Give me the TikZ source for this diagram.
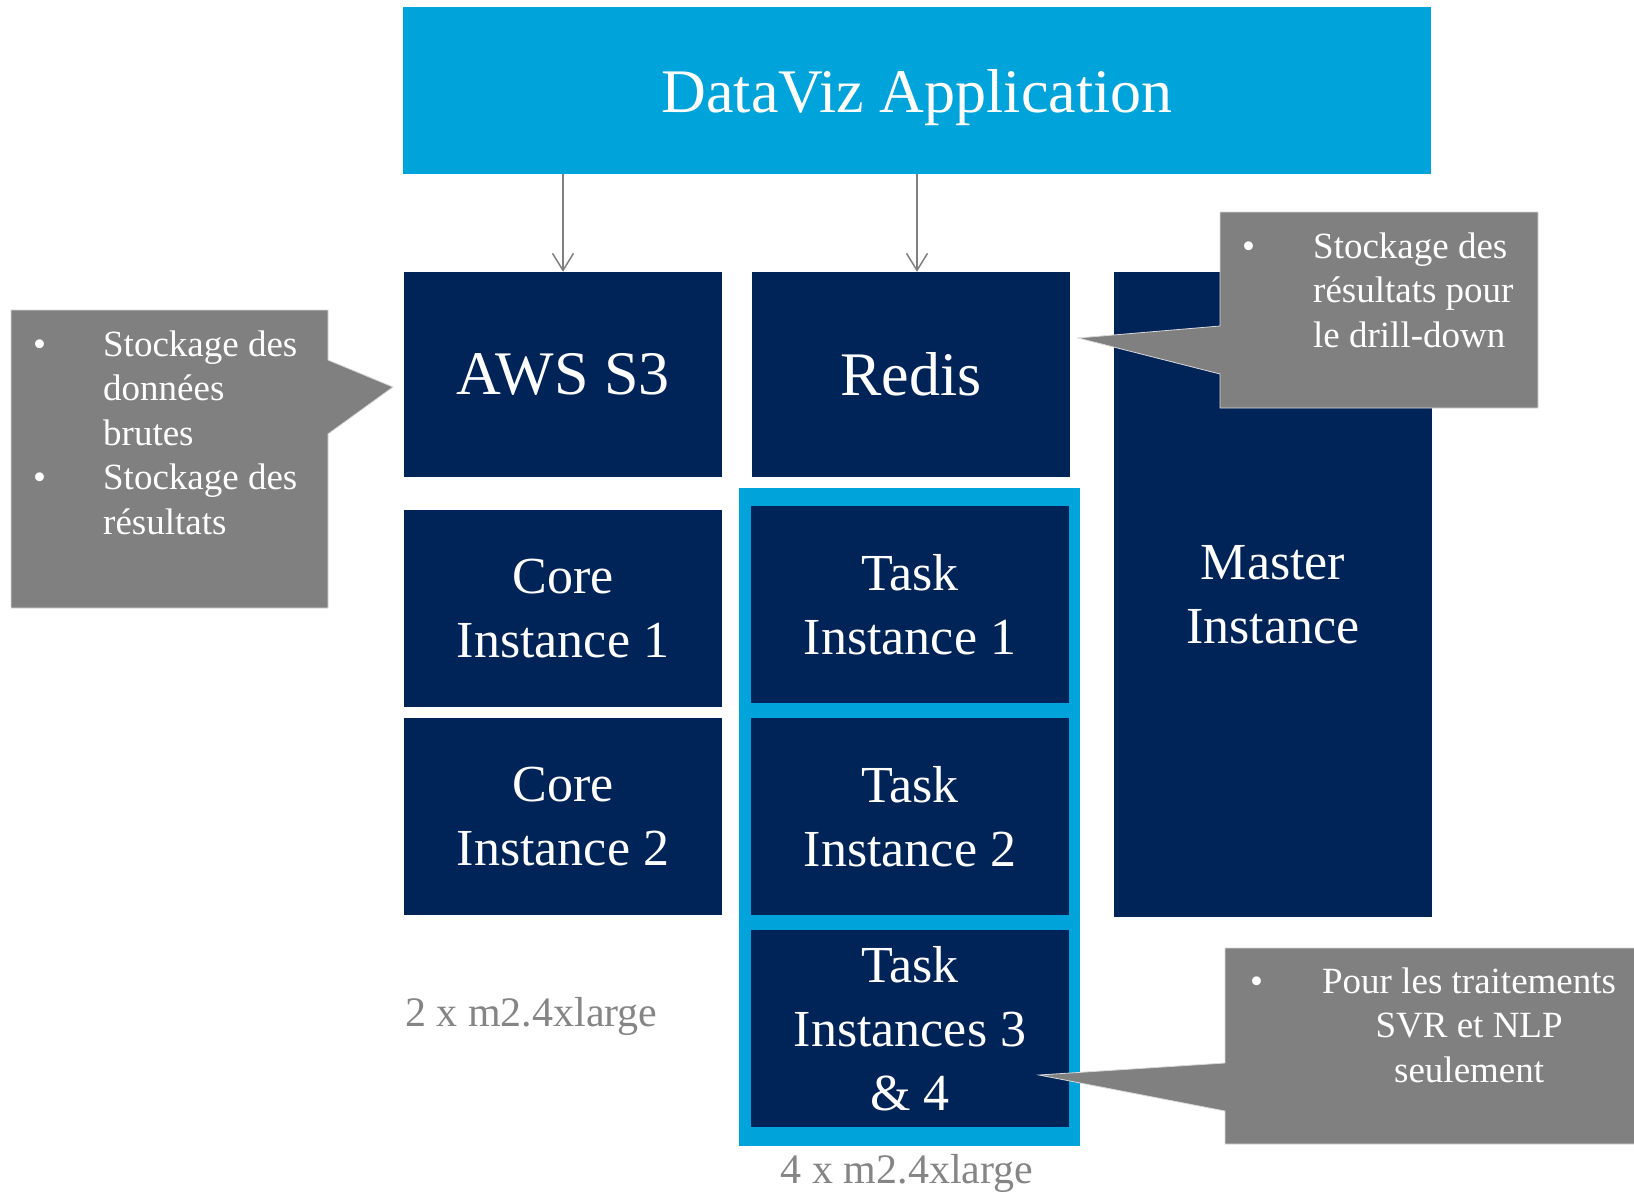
\documentclass[tikz,border=0pt]{standalone}
\usepackage{fontspec}
\setmainfont{Liberation Serif}
\usetikzlibrary{arrows.meta}

\definecolor{appblue}{HTML}{00A3DA}
\definecolor{navy}{HTML}{002358}
\definecolor{notegray}{HTML}{808080}
\definecolor{lblgray}{HTML}{858585}

\newcommand\titlesize{\fontsize{62}{74}\selectfont}
\newcommand\instsize{\fontsize{52}{64}\selectfont}
\newcommand\notesize{\fontsize{37}{44.5}\selectfont}
\newcommand\lblsize{\fontsize{42}{50}\selectfont}

\tikzset{
    inst/.style={fill=navy, text=white, inner sep=0pt, align=center,
        minimum width=318pt, font=\instsize},
    notebox/.style={fill=notegray, draw=white!70!gray, line width=0.8pt},
    notetext/.style={text=white, inner sep=0pt, font=\notesize, anchor=base west},
    lbl/.style={text=lblgray, inner sep=0pt, font=\lblsize},
    feed/.style={draw=notegray, line width=1.5pt,
        -{Straight Barb[length=17pt,width=21pt,line width=1.5pt]}}
}

\begin{document}
\begin{tikzpicture}[x=1pt,y=-1pt]
    \useasboundingbox (0,0) rectangle (1634,1192);

    \node[fill=appblue, text=white, minimum width=1028pt, minimum height=167pt,
        text depth=0pt, font=\titlesize] (app) at (917,90.5) {DataViz Application};

    \node[inst, minimum height=205pt, font=\titlesize] (s3)    at (563,374.5) {AWS S3};
    \node[inst, minimum height=205pt, font=\titlesize] (redis) at (911,374.5) {Redis};
    \node[inst, minimum height=645pt] (master) at (1273,594.5) {Master\\Instance};

    \node[inst, minimum height=197pt] (core1) at (563,608.5) {Core\\Instance 1};
    \node[inst, minimum height=197pt] (core2) at (563,816.5) {Core\\Instance 2};

    % task group
    \node[fill=appblue, minimum width=341pt, minimum height=658pt] (taskgrp) at (909.5,817) {};
    \node[inst, minimum height=197pt] (task1) at (910,604.5)  {Task\\Instance 1};
    \node[inst, minimum height=197pt] (task2) at (910,816.5)  {Task\\Instance 2};
    \node[inst, minimum height=197pt] (task3) at (910,1028.5) {Task\\Instances 3\\\& 4};

    \draw[feed] (app.south -| s3) -- (s3.north);
    \draw[feed] (app.south) -- (app.south |- redis.north);

    \node[lbl, anchor=base west] (corelbl) at (405,1026) {2 x m2.4xlarge};
    \node[lbl, anchor=base] (tasklbl) at (907,1183) {4 x m2.4xlarge};

    % callouts
    \draw[notebox] (11,310) -- (328,310) -- (328,360) -- (393,387) -- (328,434)
        -- (328,608) -- (11,608) -- cycle;
    \node[notetext] (s3note) at (33,356) {\begin{tabular}[t]{@{}p{70pt}@{}l@{}}
        \textbullet & Stockage des\\ & données\\ & brutes\\
        \textbullet & Stockage des\\ & résultats\end{tabular}};

    \draw[notebox] (1220,212) -- (1538,212) -- (1538,408) -- (1220,408) -- (1220,374)
        -- (1078,338) -- (1220,326) -- cycle;
    \node[notetext] (redisnote) at (1242,258) {\begin{tabular}[t]{@{}p{71pt}@{}l@{}}
        \textbullet & Stockage des\\ & résultats pour\\ & le drill-down\end{tabular}};

    \draw[notebox] (1225,948) -- (1640,948) -- (1640,1144) -- (1225,1144) -- (1225,1111)
        -- (1039,1075) -- (1225,1063) -- cycle;
    \node[notetext] (tasknote) at (1250,993) {\begin{tabular}[t]{@{}p{72pt}@{}c@{}}
        \textbullet & Pour les traitements\\ & SVR et NLP\\ & seulement\end{tabular}};
\end{tikzpicture}
\end{document}
